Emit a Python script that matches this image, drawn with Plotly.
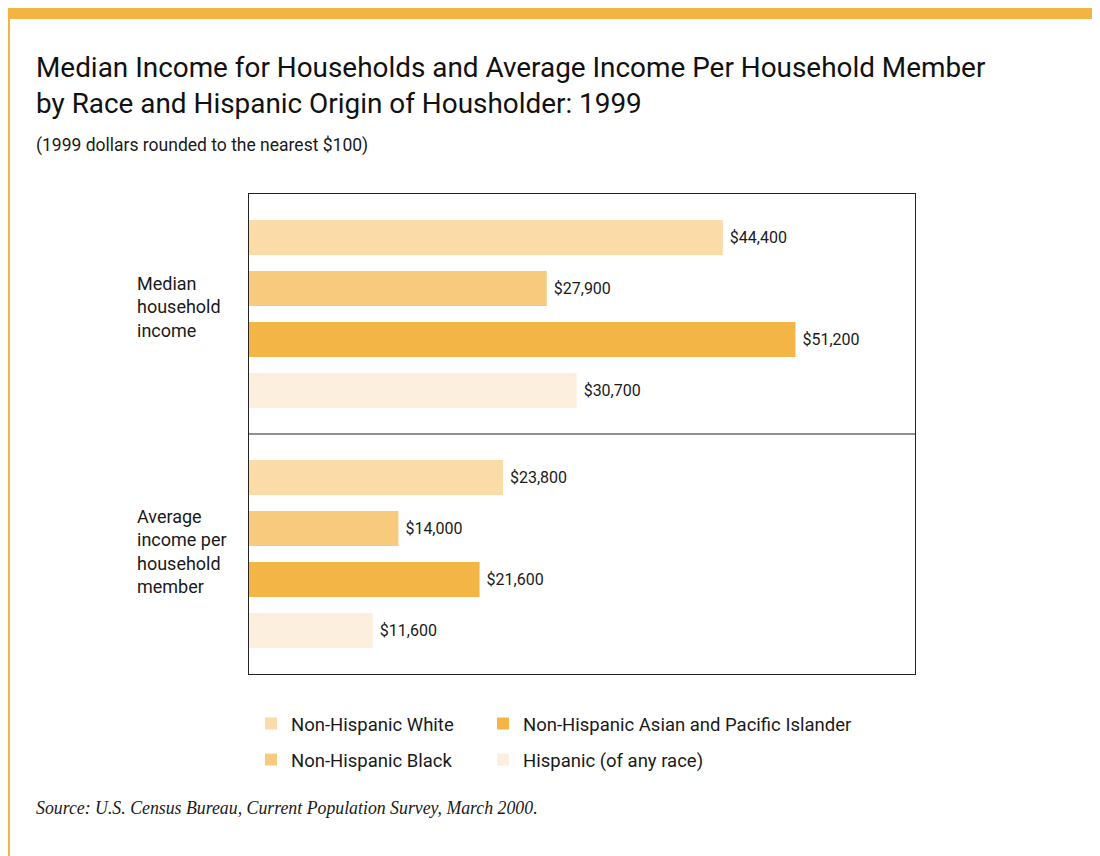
import plotly.graph_objects as go

categories = ["Median household income", "Average income per household member"]
category_labels = ["Median<br>household<br>income", "Average<br>income per<br>household<br>member"]
series_names = ["Non-Hispanic White", "Non-Hispanic Black",
                "Non-Hispanic Asian and Pacific Islander", "Hispanic (of any race)"]
white = [44400, 23800]
black = [27900, 14000]
asian = [51200, 21600]
hispanic = [30700, 11600]
series_values = [white, black, asian, hispanic]
colors = ["#FBDCA9", "#F8CA7D", "#F3B545", "#FDEFDD"]
legend_ids = ["legend", "legend", "legend2", "legend2"]
label_shifts = [7, 3]

FONT = "Roboto"
TXT = "#1a1a1a"
W, H = 1100, 856
OFF = 8  # page offset of the figure (body margin)
L, T = 241, 186
PW, PH = 666, 480
R, B = W - L - PW, H - T - PH


def px_x(px):
    return (px - OFF - L) / PW


def px_y(py):
    return (T + PH - (py - OFF)) / PH


fig = go.Figure()
for i, (name, vals, col, lg) in enumerate(zip(series_names, series_values, colors, legend_ids)):
    fig.add_trace(go.Bar(
        y=categories, x=vals, name=name, orientation="h",
        marker=dict(color=col, line=dict(width=0)),
        text=[f" ${v:,}" for v in vals], textposition="outside",
        textfont=dict(family=FONT, size=16, color=TXT),
        cliponaxis=False, legend=lg, legendgroup=f"g{i}",
    ))

shapes = [
    # top band
    dict(type="rect", xref="paper", yref="paper", x0=px_x(0), x1=px_x(1100),
         y0=px_y(19), y1=px_y(0), fillcolor="#F2B544", line=dict(width=0), layer="below"),
    # left rule
    dict(type="line", xref="paper", yref="paper", x0=px_x(9), x1=px_x(9),
         y0=px_y(864), y1=px_y(19), line=dict(color="#F2B544", width=2)),
    # divider between groups
    dict(type="line", xref="paper", yref="y", x0=0, x1=1, y0=0.5, y1=0.5,
         line=dict(color="#222", width=1)),
]

annotations = []
for cat, lab, ys in zip(categories, category_labels, label_shifts):
    annotations.append(dict(xref="paper", yref="y", x=px_x(135), y=cat, text=lab, yshift=ys,
                            showarrow=False, xanchor="left", yanchor="middle", align="left",
                            font=dict(family=FONT, size=18, color=TXT)))
annotations.append(dict(xref="paper", yref="paper", x=px_x(34), y=px_y(145),
                        text="(1999 dollars rounded to the nearest $100)", showarrow=False,
                        xanchor="left", yanchor="middle",
                        font=dict(family=FONT, size=17.5, color=TXT)))
annotations.append(dict(xref="paper", yref="paper", x=px_x(34), y=px_y(808),
                        text="<i>Source: U.S. Census Bureau, Current Population Survey, March 2000.</i>",
                        showarrow=False, xanchor="left", yanchor="middle",
                        font=dict(family="Liberation Serif", size=17.8, color=TXT)))

legend_common = dict(orientation="v", yanchor="top", tracegroupgap=9,
                     bgcolor="rgba(0,0,0,0)", font=dict(family=FONT, size=18.5, color=TXT))

fig.update_layout(
    width=W, height=H, margin=dict(l=L, r=R, t=T, b=B),
    paper_bgcolor="white", plot_bgcolor="white",
    title=dict(text="Median Income for Households and Average Income Per Household Member<br>by Race and Hispanic Origin of Housholder: 1999",
               x=(36 - OFF) / W, xanchor="left", xref="container", yref="container",
               y=1 - (77 - OFF) / H, yanchor="top",
               font=dict(family=FONT, size=27.9, color="#111")),
    barmode="group", bargap=0.15, bargroupgap=0.31,
    xaxis=dict(range=[0, 62400], showgrid=False, zeroline=False, showticklabels=False,
               ticks="", showline=True, linecolor="#222", linewidth=1, mirror=True),
    yaxis=dict(autorange="reversed", showgrid=False, showticklabels=False, ticks="",
               showline=True, linecolor="#222", linewidth=1, mirror=True),
    legend=dict(x=px_x(251), y=px_y(705), **legend_common),
    legend2=dict(x=px_x(483), y=px_y(705), **legend_common),
    shapes=shapes, annotations=annotations,
)

fig.write_html("out.html")
